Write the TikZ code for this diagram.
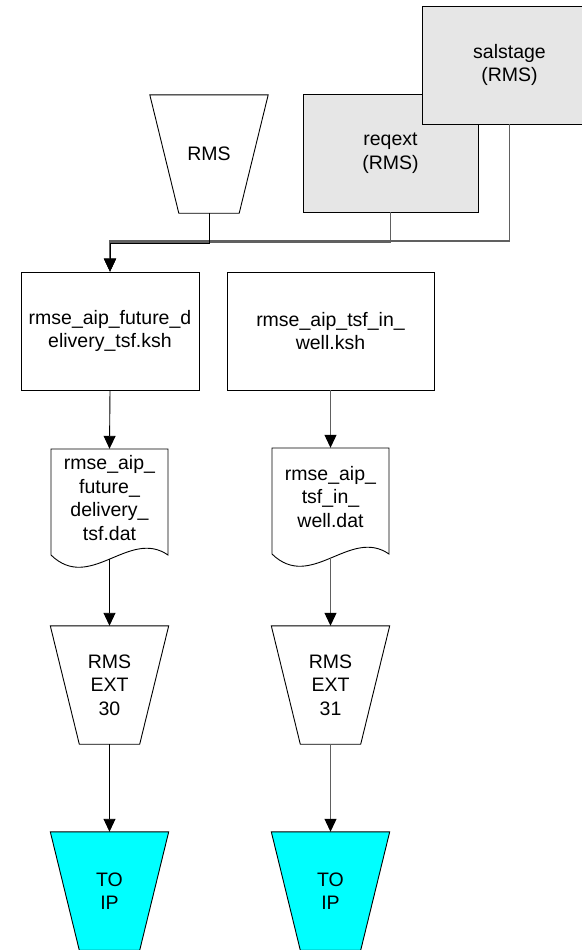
\documentclass[tikz,border=0pt]{standalone}
\usepackage{fontspec}
\setmainfont{Liberation Sans}
\usetikzlibrary{arrows.meta,backgrounds}
\definecolor{boxgray}{HTML}{E6E6E6}
\definecolor{linegray}{HTML}{606060}
\definecolor{tocyan}{HTML}{00FFFF}
\begin{document}
\begin{tikzpicture}[x=1pt,y=-1pt,
  every node/.style={font=\fontsize{19.5}{23.5}\selectfont, align=center, inner sep=0pt},
  boxnode/.style={draw=black, line width=0.9pt, minimum width=#1, minimum height=118pt},
  graybox/.style={boxnode=175pt, fill=boxgray},
  tznode/.style={minimum width=118pt, minimum height=118pt},
  docnode/.style={minimum width=117pt, minimum height=98pt},
  shp/.style={draw=black, line width=0.9pt},
  tip/.style={-{Triangle[width=12pt,length=13pt,color=black,fill=black]}},
  connk/.style={tip, draw=black, line width=0.9pt},
  conng/.style={tip, draw=linegray, line width=1.1pt}
]
\useasboundingbox (0,0) rectangle (581,950);

% sources
\node[tznode] (rms) at (209,154) {RMS};
\node[graybox] (reqext) at (390.5,153) {reqext\\(RMS)};
\node[graybox] (salstage) at (509.5,65) {salstage\\(RMS)};

% scripts
\node[boxnode=178pt] (box1) at (110,331) {rmse\_aip\_future\_d\\elivery\_tsf.ksh};
\node[boxnode=207pt] (box2) at (330.5,331) {rmse\_aip\_tsf\_in\_\\well.ksh};

% data files
\node[docnode] (doc1) at (109.5,498) {rmse\_aip\_\\future\_\\delivery\_\\tsf.dat};
\node[docnode] (doc2) at (330.5,497) {rmse\_aip\_\\tsf\_in\_\\well.dat};

% extracts
\node[tznode] (trap1) at (109.5,685) {RMS\\EXT\\30};
\node[tznode] (trap2) at (330.5,685) {RMS\\EXT\\31};

% targets
\node[tznode] (cyan1) at (109.5,891) {TO\\IP};
\node[tznode] (cyan2) at (330.5,891) {TO\\IP};

\begin{scope}[on background layer]
  \foreach \n/\f in {rms/white,trap1/white,trap2/white,cyan1/tocyan,cyan2/tocyan}{
    \draw[shp, fill=\f] (\n.north west) -- (\n.north east)
      -- ([xshift=-29pt]\n.south east) -- ([xshift=29pt]\n.south west) -- cycle;
  }
  \foreach \n in {doc1,doc2}{
    \draw[shp, fill=white, shift={(\n.center)}]
      (-58.5,-49) -- (58.5,-49) -- (58.5,57)
      .. controls (19.5,30) and (-19.5,95) .. (-58.5,57) -- cycle;
  }
\end{scope}

% junction points
\coordinate (j3) at (salstage.south |- 0,241);
\coordinate (j2) at (reqext.south |- 0,242);
\coordinate (j1) at (rms.south |- 0,243);
\coordinate (d1b) at ([yshift=-12pt]doc1.south);
\coordinate (d2b) at ([yshift=-12pt]doc2.south);

\draw[conng] (salstage.south) -- (j3) -| (box1.north);
\draw[conng] (reqext.south) -- (j2) -| (box1.north);
\draw[connk] (rms.south) -- (j1) -| (box1.north);

\draw[connk] (box1.south) -- (doc1.north);
\draw[connk] (d1b) -- (trap1.north);
\draw[connk] (trap1.south) -- (cyan1.north);

\draw[conng] (box2.south) -- (doc2.north);
\draw[conng] (d2b) -- (trap2.north);
\draw[conng] (trap2.south) -- (cyan2.north);
\end{tikzpicture}
\end{document}
